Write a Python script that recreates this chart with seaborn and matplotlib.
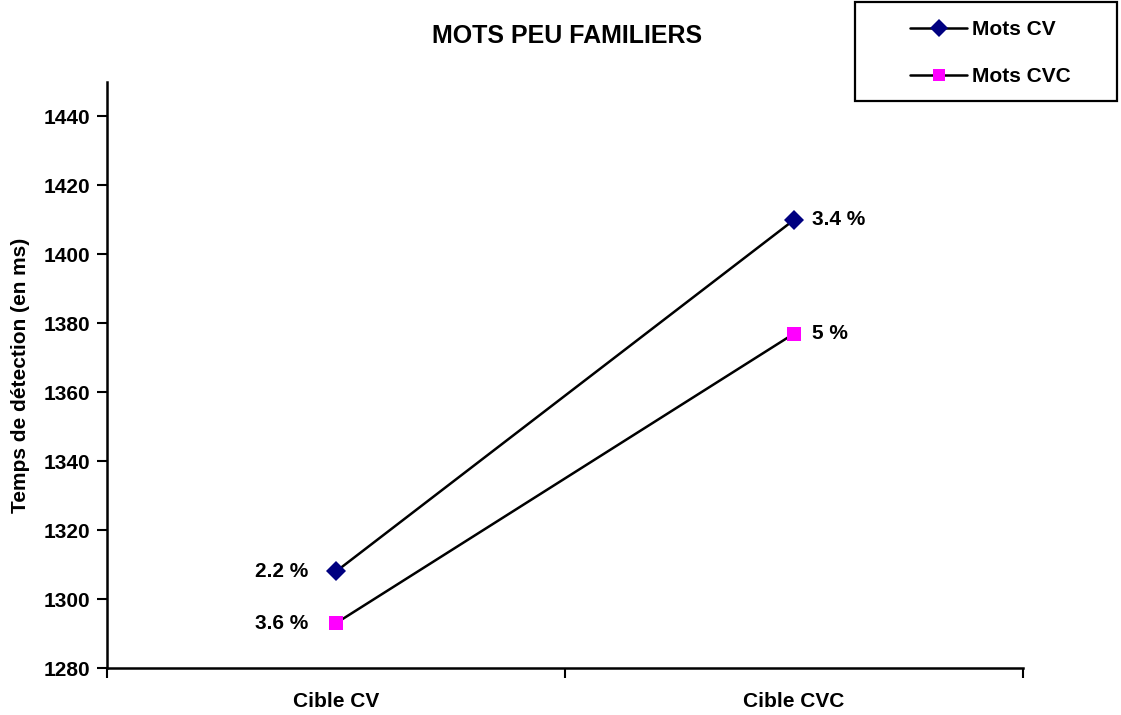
import pandas as pd
import matplotlib
matplotlib.use('Agg')
import matplotlib.pyplot as plt
import seaborn as sns
from matplotlib.lines import Line2D
from matplotlib.patches import Rectangle

# valeurs
cibles = ['Cible CV', 'Cible CVC']
mots_cv = [1308, 1410]
mots_cvc = [1293, 1377]
erreurs_cv = ['2.2 %', '3.4 %']
erreurs_cvc = ['3.6 %', '5 %']

data = pd.DataFrame({
    'cible': cibles * 2,
    'temps': mots_cv + mots_cvc,
    'mots': ['Mots CV'] * 2 + ['Mots CVC'] * 2,
    'erreur': erreurs_cv + erreurs_cvc,
})

sns.set_style('white')
plt.rcParams['font.family'] = ['Liberation Sans', 'DejaVu Sans']
plt.rcParams['font.weight'] = 'bold'
plt.rcParams['text.color'] = 'black'
plt.rcParams['xtick.color'] = 'black'
plt.rcParams['ytick.color'] = 'black'
plt.rcParams['axes.labelcolor'] = 'black'

fig = plt.figure(figsize=(11.21, 7.15), dpi=100)
ax = fig.add_axes([107 / 1121, 1 - 668 / 715, (1023 - 107) / 1121, (668 - 82) / 715])

couleurs = {'Mots CV': '#000080', 'Mots CVC': '#ff00ff'}
sns.lineplot(data=data, x='cible', y='temps', hue='mots', style='mots',
             markers={'Mots CV': 'D', 'Mots CVC': 's'}, dashes=False,
             palette=couleurs, ax=ax, legend=False, zorder=3,
             markersize=10, markeredgewidth=0)
for l in ax.lines:
    l.set_color('black')
    l.set_linewidth(1.8)
    l.set_markerfacecolor(couleurs['Mots CV'] if l.get_marker() == 'D' else couleurs['Mots CVC'])

# étiquettes de pourcentage
for i, row in data.iterrows():
    x = cibles.index(row['cible'])
    if x == 0:
        ax.text(x - 0.06, row['temps'], row['erreur'], ha='right', va='center',
                fontsize=15, fontweight='bold')
    else:
        ax.text(x + 0.04, row['temps'], row['erreur'], ha='left', va='center',
                fontsize=15, fontweight='bold')

ax.set_xlim(-0.5, 1.5)
ax.set_ylim(1280, 1450)
ax.set_yticks(range(1280, 1441, 20))
ax.set_xticks([0, 1])
ax.set_xticklabels(cibles)
ax.set_xticks([-0.5, 0.5, 1.5], minor=True)
ax.tick_params(axis='x', which='major', bottom=True, length=0, pad=17, labelsize=15)
ax.tick_params(axis='x', which='minor', bottom=True, length=7, width=1.5, direction='out')
ax.tick_params(axis='y', left=True, length=7, width=1.5, direction='out', labelsize=15, pad=5)
for lab in ax.get_xticklabels() + ax.get_yticklabels():
    lab.set_fontweight('bold')

for s in ['top', 'right']:
    ax.spines[s].set_visible(False)
for s in ['left', 'bottom']:
    ax.spines[s].set_linewidth(1.8)
    ax.spines[s].set_color('black')

ax.set_xlabel('')
ax.set_ylabel('Temps de détection (en ms)', fontsize=15, fontweight='bold', labelpad=10)

fig.text(567 / 1121, 1 - 36 / 715, 'MOTS PEU FAMILIERS', ha='center', va='center',
         fontsize=18, fontweight='bold')

# légende
poignees = [
    Line2D([], [], color='black', lw=1.8, marker='D', markersize=9,
           markerfacecolor=couleurs['Mots CV'], markeredgewidth=0),
    Line2D([], [], color='black', lw=1.8, marker='s', markersize=9,
           markerfacecolor=couleurs['Mots CVC'], markeredgewidth=0),
]
fig.patches.append(Rectangle((855 / 1121, 1 - 101 / 715), 262 / 1121, 99 / 715,
                             transform=fig.transFigure, fill=False,
                             edgecolor='black', linewidth=1.6))
leg = fig.legend(poignees, ['Mots CV', 'Mots CVC'], loc='center left',
                 bbox_to_anchor=(900 / 1121, 1 - 53 / 715), frameon=False,
                 borderpad=0, labelspacing=1.35, handlelength=2.7,
                 handletextpad=0.25, prop={'size': 15, 'weight': 'bold'})

fig.savefig('out.png', dpi=100)
